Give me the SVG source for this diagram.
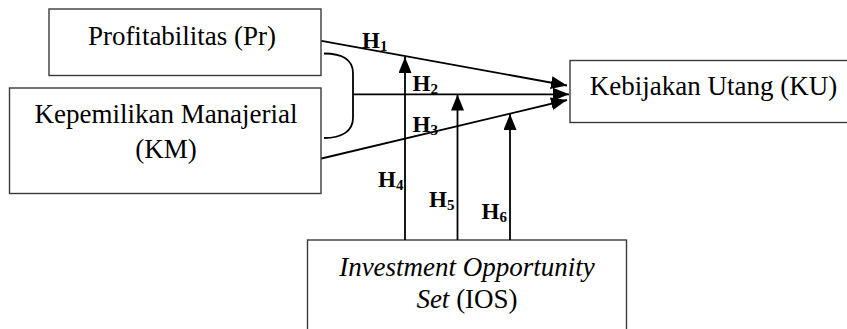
<svg xmlns="http://www.w3.org/2000/svg" width="847" height="329" viewBox="0 0 847 329">
  <defs>
    <style>
      .box { fill: #ffffff; stroke: #3a3a3a; stroke-width: 1.4; }
      .lbl { font-family: "Liberation Serif", "Times New Roman", serif; font-size: 27px; fill: #000; text-anchor: middle; }
      .hyp { font-family: "Liberation Serif", "Times New Roman", serif; font-size: 23px; font-weight: bold; fill: #000; }
      .sub { font-size: 15px; }
      .link { fill: none; stroke: #000; stroke-width: 1.8; }
    </style>
    <marker id="arrow" markerUnits="userSpaceOnUse" markerWidth="17" markerHeight="13" refX="16" refY="6.5" orient="auto">
      <path d="M0,0 L16,6.5 L0,13 z" fill="#000"/>
    </marker>
  </defs>

  <rect width="847" height="329" fill="#ffffff"/>

  <g id="node-pr">
    <rect class="box" x="49" y="9" width="272" height="66.5"/>
    <text class="lbl" x="182" y="44.5">Profitabilitas (Pr)</text>
  </g>

  <g id="node-km">
    <rect class="box" x="9.5" y="88" width="311.5" height="105.5"/>
    <text class="lbl" x="166" y="122.5">Kepemilikan Manajerial</text>
    <text class="lbl" x="166" y="157.5">(KM)</text>
  </g>

  <g id="node-ku">
    <rect class="box" x="570" y="60.5" width="290" height="62"/>
    <text class="lbl" x="713.5" y="95">Kebijakan Utang (KU)</text>
  </g>

  <g id="node-ios">
    <rect class="box" x="307.5" y="240" width="319" height="100"/>
    <text class="lbl" x="467" y="276"><tspan font-style="italic">Investment Opportunity</tspan></text>
    <text class="lbl" x="467" y="307.5"><tspan font-style="italic">Set</tspan> (IOS)</text>
  </g>

  <g id="connectors">
    <!-- joint effect bracket of Pr and KM -->
    <path class="link" d="M324,53.5 C342,53.5 353,60 353,73 L353,118 C353,131 342,138 324,138"/>
    <line class="link" x1="321.5" y1="40.8" x2="567" y2="85.5" marker-end="url(#arrow)"/>
    <line class="link" x1="353" y1="94.3" x2="569" y2="94.3" marker-end="url(#arrow)"/>
    <line class="link" x1="321.5" y1="158.5" x2="567" y2="100" marker-end="url(#arrow)"/>
    <!-- moderating paths from IOS -->
    <line class="link" x1="405" y1="240" x2="405" y2="57" marker-end="url(#arrow)"/>
    <line class="link" x1="457.5" y1="240" x2="457.5" y2="94.5" marker-end="url(#arrow)"/>
    <line class="link" x1="510" y1="240" x2="510" y2="114" marker-end="url(#arrow)"/>
  </g>

  <g id="labels">
    <text class="hyp" x="362" y="48">H<tspan class="sub" dy="3">1</tspan></text>
    <text class="hyp" x="412.5" y="90.5">H<tspan class="sub" dy="3">2</tspan></text>
    <text class="hyp" x="412.5" y="132">H<tspan class="sub" dy="3">3</tspan></text>
    <text class="hyp" x="378" y="187">H<tspan class="sub" dy="3">4</tspan></text>
    <text class="hyp" x="429" y="207">H<tspan class="sub" dy="3">5</tspan></text>
    <text class="hyp" x="481.5" y="218.5">H<tspan class="sub" dy="3">6</tspan></text>
  </g>
</svg>
